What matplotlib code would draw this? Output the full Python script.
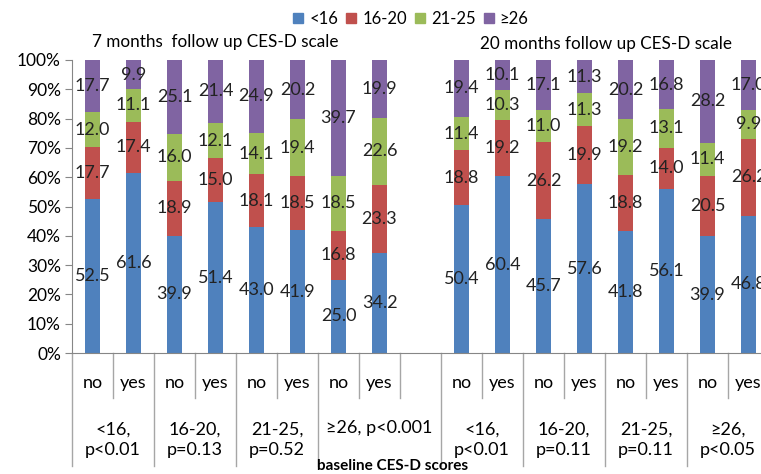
import matplotlib.pyplot as plt
from matplotlib.patches import Patch

# data (percent of each group)
series = ["<16", "16-20", "21-25", "≥26"]
colors = ["#4F81BD", "#C0504D", "#9BBB59", "#8064A2"]
bar_labels = ["no", "yes"] * 4 + ["no", "yes"] * 4

lt16 = [52.5, 61.6, 39.9, 51.4, 43.0, 41.9, 25.0, 34.2,
        50.4, 60.4, 45.7, 57.6, 41.8, 56.1, 39.9, 46.8]
b16_20 = [17.7, 17.4, 18.9, 15.0, 18.1, 18.5, 16.8, 23.3,
          18.8, 19.2, 26.2, 19.9, 18.8, 14.0, 20.5, 26.2]
b21_25 = [12.0, 11.1, 16.0, 12.1, 14.1, 19.4, 18.5, 22.6,
          11.4, 10.3, 11.0, 11.3, 19.2, 13.1, 11.4, 9.9]
ge26 = [17.7, 9.9, 25.1, 21.4, 24.9, 20.2, 39.7, 19.9,
        19.4, 10.1, 17.1, 11.3, 20.2, 16.8, 28.2, 17.0]

groups_7 = ["<16,\np<0.01", "16-20,\np=0.13", "21-25,\np=0.52", "≥26, p<0.001"]
groups_20 = ["<16,\np<0.01", "16-20,\np=0.11", "21-25,\np=0.11", "≥26,\np<0.05"]

# bar slots: 8 bars, one empty slot, 8 bars
xpos = list(range(8)) + list(range(9, 17))

plt.rcParams["font.family"] = ["Lato", "DejaVu Sans"]
fig = plt.figure(figsize=(7.61, 4.74), dpi=100)
W, H = 761, 474
ax = fig.add_axes([72 / W, (H - 353) / H, 697 / W, 293 / H])

data = [lt16, b16_20, b21_25, ge26]
bottoms = [0.0] * 16
for vals, col in zip(data, colors):
    tot = [a + b + c + d for a, b, c, d in zip(*data)]
    pct = [v / t * 100 for v, t in zip(vals, tot)]
    ax.bar(xpos, pct, width=0.37, bottom=bottoms, color=col, zorder=2)
    for x, b, p, v in zip(xpos, bottoms, pct, vals):
        ax.text(x, b + p / 2, f"{v:.1f}", ha="center", va="center",
                fontsize=13, color="#222222", zorder=3)
    bottoms = [b + p for b, p in zip(bottoms, pct)]

ax.set_xlim(-0.5, 16.5)
ax.set_ylim(0, 100)
ax.set_yticks(range(0, 101, 10))
ax.set_yticklabels([f"{v}%" for v in range(0, 101, 10)], fontsize=12.5)
ax.set_xticks([])
for s in ["top", "right"]:
    ax.spines[s].set_visible(False)
ax.spines["left"].set_color("#868686")
ax.spines["bottom"].set_color("#868686")
ax.tick_params(axis="y", color="#868686", length=5, pad=3)

# multi-level category axis
tr = ax.get_xaxis_transform()
short_y = (353 - 398) / 293
long_y = (353 - 466) / 293
for x in [-0.5, 1.5, 3.5, 5.5, 8.5, 10.5, 12.5, 14.5]:
    ax.plot([x, x], [0, long_y], transform=tr, color="#A6A6A6", lw=1, clip_on=False)
for x in [0.5, 2.5, 4.5, 6.5, 7.5, 9.5, 11.5, 13.5, 15.5]:
    ax.plot([x, x], [0, short_y], transform=tr, color="#A6A6A6", lw=1, clip_on=False)

for x, lab in zip(xpos, bar_labels):
    ax.text(x, (353 - 383) / 293, lab, transform=tr, ha="center", va="center", fontsize=13)

for x, lab in zip([0.5, 2.5, 4.5], groups_7[:3]):
    ax.text(x, (353 - 440) / 293, lab, transform=tr, ha="center", va="center",
            fontsize=13, linespacing=1.35)
ax.text(7, (353 - 428) / 293, groups_7[3], transform=tr, ha="center", va="center", fontsize=13)
for x, lab in zip([9.5, 11.5, 13.5, 15.5], groups_20):
    ax.text(x, (353 - 440) / 293, lab, transform=tr, ha="center", va="center",
            fontsize=13, linespacing=1.35)

fig.text(393 / W, 1 - 466 / H, "baseline CES-D scores", ha="center", va="center",
         fontsize=11, fontweight="bold")

# titles above each panel
fig.text(92 / W, 1 - 42 / H, "7 months  follow up CES-D scale", ha="left", va="center", fontsize=12.3)
fig.text(480 / W, 1 - 44 / H, "20 months follow up CES-D scale", ha="left", va="center", fontsize=12.3)

handles = [Patch(color=c) for c in colors]
fig.legend(handles, series, loc="center", bbox_to_anchor=(411 / W, 1 - 19 / H), ncol=4,
           frameon=False, fontsize=12, handlelength=0.6, handleheight=0.6,
           handletextpad=0.35, columnspacing=0.5)

fig.savefig("out.png", dpi=100)
